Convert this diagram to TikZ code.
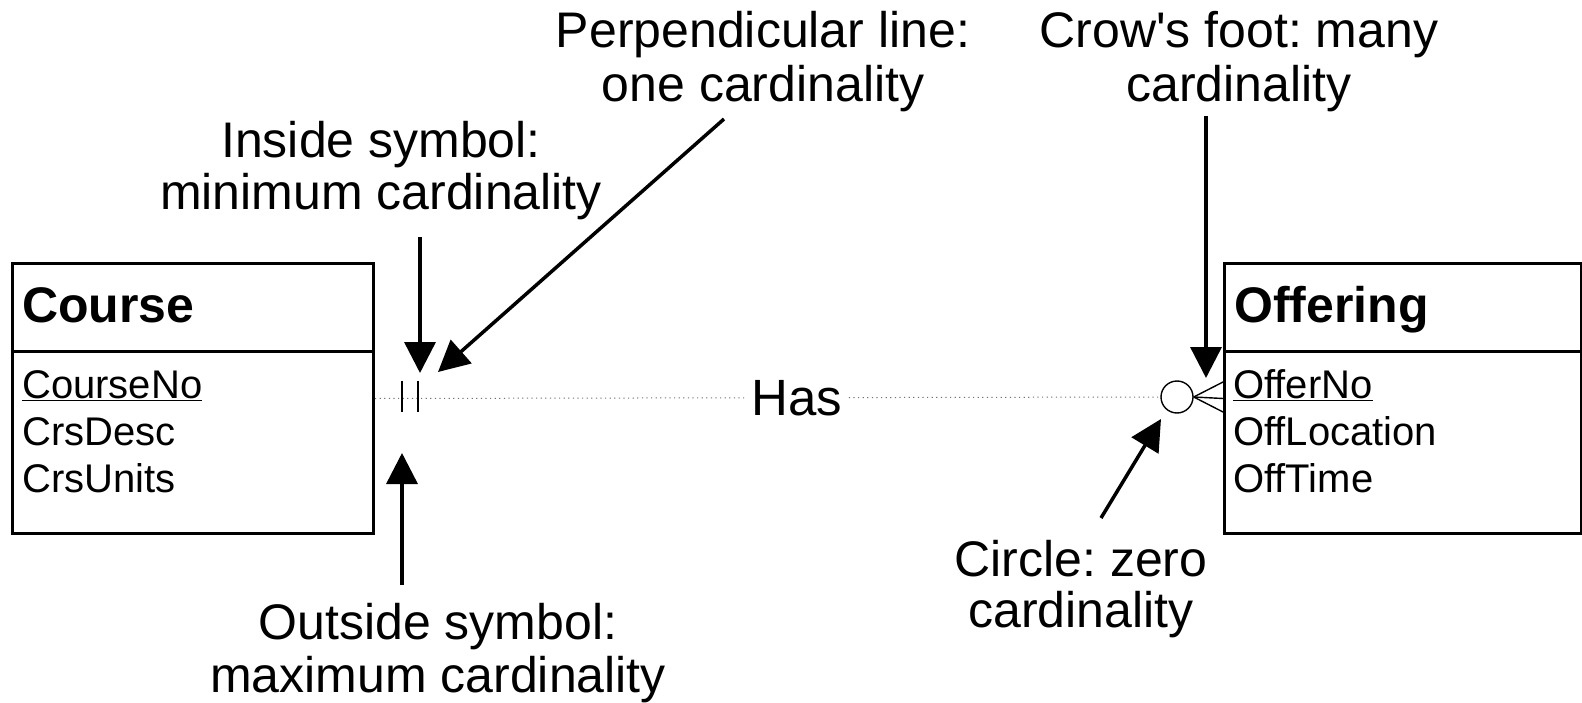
\documentclass[tikz,border=0pt]{standalone}
\usepackage{fontspec}
\setmainfont{Liberation Sans}[Ligatures=TeXOff]
\usetikzlibrary{arrows.meta}
\frenchspacing
\begin{document}
\begin{tikzpicture}[x=1pt,y=-1pt,
  entity/.style={draw,line width=3pt,minimum width=#1,minimum height=270pt,anchor=north west,inner sep=0pt},
  headtext/.style={font=\fontsize{50}{50}\selectfont\bfseries,anchor=base west,inner sep=0pt},
  attr/.style={font=\fontsize{40}{44}\selectfont,anchor=base west,inner sep=0pt},
  callout/.style={font=\fontsize{50}{#1}\selectfont,align=center,anchor=base,inner sep=0pt},
  callout/.default=54,
  pointer/.style={line width=3.5pt,-{Triangle[length=31pt,width=31pt]}},
  relline/.style={draw=black!55,line width=1pt,dash pattern=on 1.2pt off 3.4pt},
  tick/.style={line width=1.6pt},
  thin/.style={line width=1.4pt}]
\useasboundingbox (0,0) rectangle (1582,703);

% entity boxes
\node[entity=361pt] (course) at (11,262) {};
\draw[line width=3pt] (11,351) -- (372,351);
\node[headtext] (courseT) at (22,323) {Course};
\node[attr] (a1) at (22,398) {\underline{CourseNo}};
\node[attr] (a2) at (22,445) {CrsDesc};
\node[attr] (a3) at (22,492) {CrsUnits};

\node[entity=357pt] (offering) at (1223,262) {};
\draw[line width=3pt] (1223,351) -- (1580,351);
\node[headtext] (offT) at (1234,323) {Offering};
\node[attr] (b1) at (1233,398) {\underline{OfferNo}};
\node[attr] (b2) at (1233,445) {OffLocation};
\node[attr] (b3) at (1233,492) {OffTime};

% relationship line with cardinality symbols
\node[draw,circle,minimum size=32pt,inner sep=0pt,thin] (zero) at (1177,397) {};
\draw[relline] (course.east) -- (zero.west);
\node[fill=white,inner sep=0pt,inner xsep=5pt,font=\fontsize{51}{51}\selectfont] (has) at (797,398) {Has};
\draw[tick] (402,381) -- (402,412);
\draw[tick] (418,381) -- (418,412);
\draw[thin] (zero.east) -- (1223,382);
\draw[thin] (zero.east) -- (offering.west);
\draw[thin] (zero.east) -- (1223,412);

% explanatory labels (anchored on the baseline of their last line)
\node[callout] (perp) at (763,102) {Perpendicular line:\\one cardinality};
\node[callout] (crow) at (1239,102) {Crow's foot: many\\cardinality};
\node[callout=52] (inside) at (381,210) {Inside symbol:\\minimum cardinality};
\node[callout=53] (outside) at (438,692) {Outside symbol:\\maximum cardinality};
\node[callout=51] (circ) at (1081,627) {Circle: zero\\cardinality};

% pointers
\coordinate (inTail) at (420,237);   \coordinate (inTip) at (420,373);
\coordinate (pTail) at (724,119);    \coordinate (pTip) at (438,372);
\coordinate (cTail) at (1206,116);   \coordinate (cTip) at (1206,378);
\coordinate (zTail) at (1101,518);   \coordinate (zTip) at (1161,419);
\coordinate (oTail) at (402,585);    \coordinate (oTip) at (402,453);
\draw[pointer] (inTail) -- (inTip);
\draw[pointer] (pTail) -- (pTip);
\draw[pointer] (cTail) -- (cTip);
\draw[pointer] (zTail) -- (zTip);
\draw[pointer] (oTail) -- (oTip);
\end{tikzpicture}
\end{document}
